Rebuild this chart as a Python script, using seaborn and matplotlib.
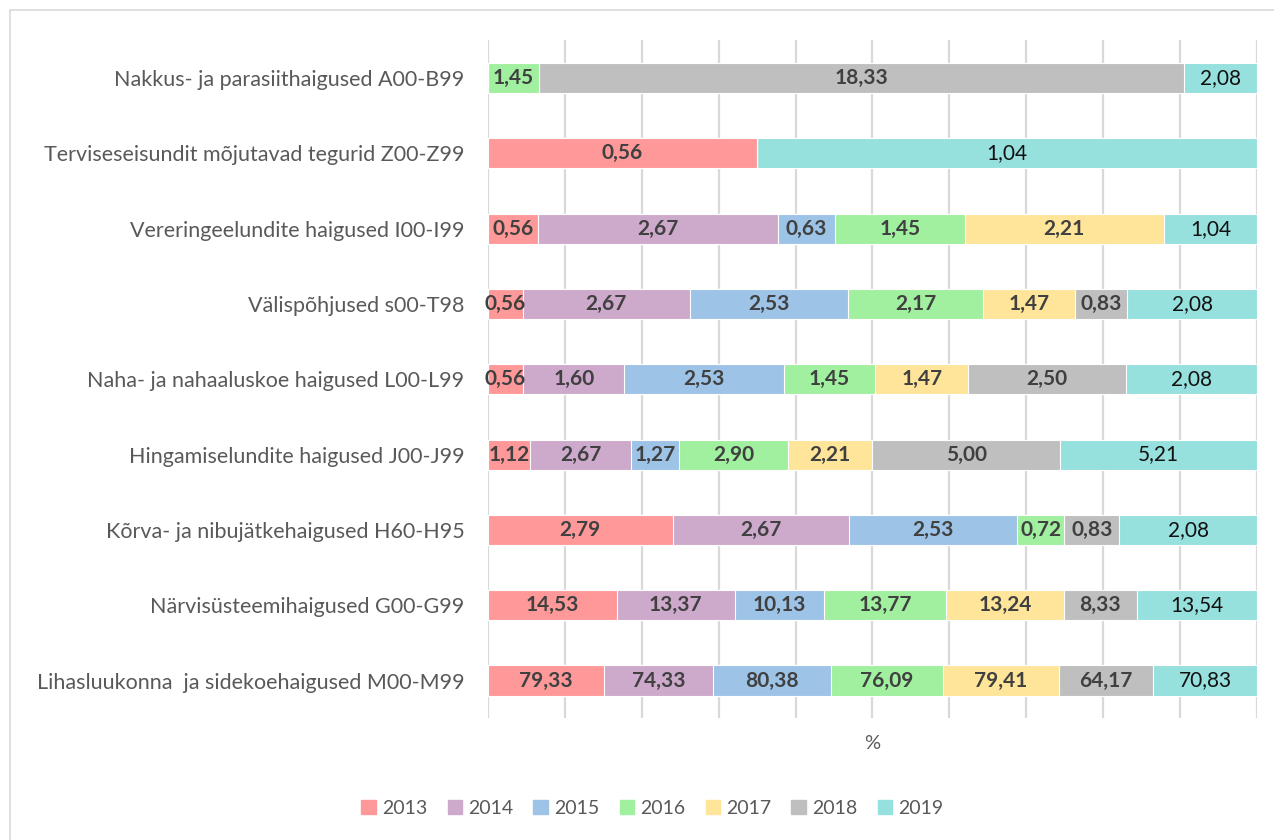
import pandas as pd
import numpy as np
import matplotlib.pyplot as plt
import matplotlib.patches as mpatches
import seaborn as sns

# =========================
# Data (values per category, NaN = no value)
# =========================
categories = [
    "Nakkus- ja parasiithaigused A00-B99",
    "Terviseseisundit mõjutavad tegurid Z00-Z99",
    "Vereringeelundite haigused I00-I99",
    "Välispõhjused s00-T98",
    "Naha- ja nahaaluskoe haigused L00-L99",
    "Hingamiselundite haigused J00-J99",
    "Kõrva- ja nibujätkehaigused H60-H95",
    "Närvisüsteemihaigused G00-G99",
    "Lihasluukonna  ja sidekoehaigused M00-M99",
]
years = ["2013", "2014", "2015", "2016", "2017", "2018", "2019"]

v2013 = [np.nan, 0.56, 0.56, 0.56, 0.56, 1.12, 2.79, 14.53, 79.33]
v2014 = [np.nan, np.nan, 2.67, 2.67, 1.60, 2.67, 2.67, 13.37, 74.33]
v2015 = [np.nan, np.nan, 0.63, 2.53, 2.53, 1.27, 2.53, 10.13, 80.38]
v2016 = [1.45, np.nan, 1.45, 2.17, 1.45, 2.90, 0.72, 13.77, 76.09]
v2017 = [np.nan, np.nan, 2.21, 1.47, 1.47, 2.21, np.nan, 13.24, 79.41]
v2018 = [18.33, np.nan, np.nan, 0.83, 2.50, 5.00, 0.83, 8.33, 64.17]
v2019 = [2.08, 1.04, 1.04, 2.08, 2.08, 5.21, 2.08, 13.54, 70.83]

colors = ["#FF9999", "#CDA9CB", "#9DC3E6", "#A0F0A0", "#FFE599", "#BFBFBF", "#96E0DE"]

df = pd.DataFrame({"2013": v2013, "2014": v2014, "2015": v2015, "2016": v2016,
                   "2017": v2017, "2018": v2018, "2019": v2019}, index=categories)

# 100% stacked shares
share = df.fillna(0).div(df.fillna(0).sum(axis=1), axis=0) * 100
cum = share.cumsum(axis=1)

# =========================
# Plot
# =========================
sns.set_theme(style="white")
plt.rcParams["font.family"] = ["Lato", "DejaVu Sans"]

fig = plt.figure(figsize=(12.74, 8.4), dpi=100)
ax = fig.add_axes([0.383, 0.145, 0.6037, 0.807])

# vertical gridlines every 10%
for gx in range(0, 101, 10):
    ax.axvline(gx, color="#D9D9D9", lw=1.6, zorder=0)

# draw cumulative bars from last year to first so each segment shows
for i in range(len(years) - 1, -1, -1):
    yr = years[i]
    d = pd.DataFrame({"cat": categories, "val": cum[yr].values})
    sns.barplot(data=d, x="val", y="cat", order=categories, color=colors[i],
                orient="h", width=0.4, saturation=1, ax=ax,
                edgecolor="white", linewidth=0.8, zorder=2)

# value labels
for r, cat in enumerate(categories):
    for i, yr in enumerate(years):
        v = df.loc[cat, yr]
        if pd.isna(v):
            continue
        xc = cum.loc[cat, yr] - share.loc[cat, yr] / 2
        txt = f"{v:.2f}".replace(".", ",")
        if yr == "2019":
            ax.text(xc, r, txt, ha="center", va="center", fontsize=15,
                    color="#111111", zorder=5)
        else:
            ax.text(xc, r, txt, ha="center", va="center", fontsize=15,
                    fontweight="bold", color="#404040", zorder=5)

ax.set_xlim(0, 100)
ax.set_ylim(8.5, -0.5)
ax.set_xticks([])
ax.set_ylabel("")
ax.set_xlabel("%", fontsize=14.5, color="#595959", labelpad=12)
ax.tick_params(axis="y", length=0, pad=17, labelsize=15.5, labelcolor="#595959")
for s in ax.spines.values():
    s.set_visible(False)

# legend
handles = [mpatches.Patch(color=c, label=y) for c, y in zip(colors, years)]
leg = fig.legend(handles=handles, loc="center", bbox_to_anchor=(0.512, 0.038), ncol=7,
                 frameon=False, fontsize=14, handlelength=0.75, handleheight=0.75,
                 columnspacing=1.05, handletextpad=0.3)
for t in leg.get_texts():
    t.set_color("#595959")

# chart border (only left and top edges visible)
fig.patches.append(mpatches.Rectangle((0.008, -0.1), 1.2, 1.088, transform=fig.transFigure,
                                      fill=False, edgecolor="#D9D9D9", lw=1.2))

fig.savefig("out.png", dpi=100)
